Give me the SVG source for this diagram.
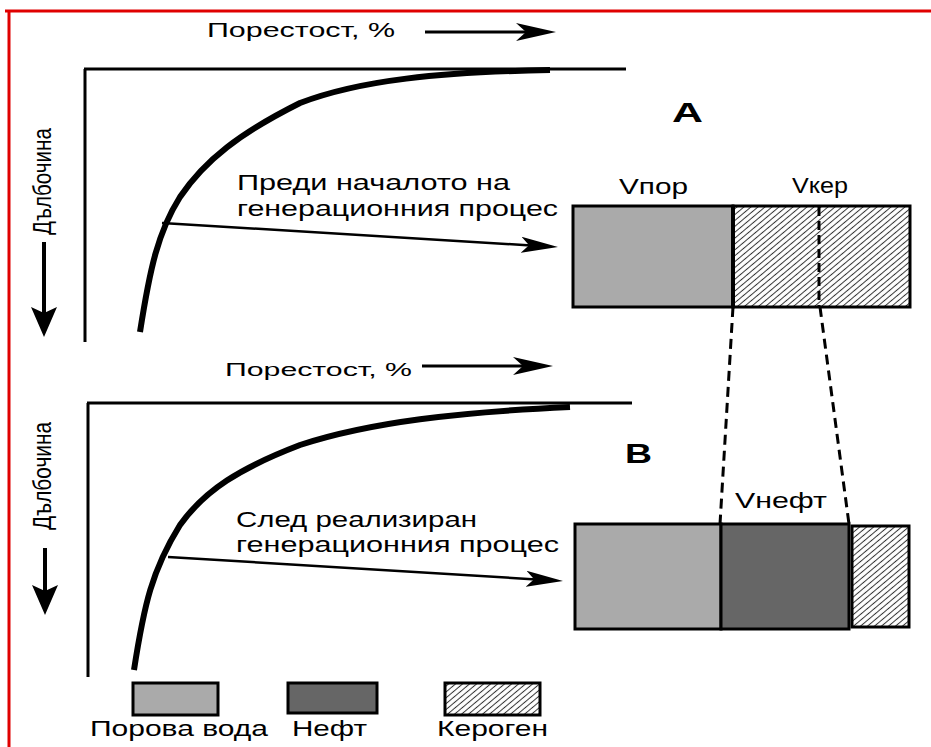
<svg xmlns="http://www.w3.org/2000/svg" width="931" height="747" viewBox="0 0 931 747">
<defs>
<style>
text{font-family:"Liberation Sans",Arial,sans-serif;fill:#000}
.t{font-size:22px}
.ax{stroke:#000;stroke-width:3;fill:none}
.crv{stroke:#000;stroke-width:6;fill:none;stroke-linejoin:round}
.ptr{stroke:#000;stroke-width:2.5;fill:none}
.box{stroke:#000;stroke-width:3}
.light{fill:#aaaaaa}
.dark{fill:#666666}
.ker{fill:url(#hatch)}
.dash{stroke:#000;stroke-width:3;stroke-dasharray:10 6;fill:none}
</style>
<pattern id="hatch" width="10" height="4.5" patternUnits="userSpaceOnUse" patternTransform="rotate(-40)">
<rect width="10" height="4.5" fill="#fff"/>
<line x1="0" y1="2.25" x2="10" y2="2.25" stroke="#333" stroke-width="1"/>
</pattern>
<marker id="headS" markerUnits="userSpaceOnUse" markerWidth="40" markerHeight="18" viewBox="0 -9 40 18" refX="10" refY="0" orient="auto">
<path d="M0,-8 L37,0 L0,8 L8,0 Z" fill="#000"/>
</marker>
<marker id="headL" markerUnits="userSpaceOnUse" markerWidth="42" markerHeight="20" viewBox="0 -10 42 20" refX="12" refY="0" orient="auto">
<path d="M0,-9 L40,0 L0,9 L10,0 Z" fill="#000"/>
</marker>
<marker id="headD" markerUnits="userSpaceOnUse" markerWidth="32" markerHeight="28" viewBox="0 -14 32 28" refX="8" refY="0" orient="auto">
<path d="M0,-13 L30,0 L0,13 L6,0 Z" fill="#000"/>
</marker>
</defs>
<rect width="931" height="747" fill="#fff"/>
<g id="border" fill="none" stroke="#e00000" stroke-width="3">
<path d="M5,11 H931 M9,11 V747"/>
</g>
<g id="chartA">
<text x="207" y="37" font-size="20" textLength="188" lengthAdjust="spacingAndGlyphs">Порестост, %</text>
<path class="ax" d="M84,69 H626 M85,69 V342"/>
<path class="crv" d="M140,332 C150,268 158,232 180,197 C205,160 240,133 300,103 C360,80 440,72 550,70"/>
<text transform="translate(51,235) scale(1.4,1) rotate(-90)" font-size="19" textLength="107" lengthAdjust="spacingAndGlyphs">Дълбочина</text>
<text x="672" y="122" font-size="28" font-weight="bold" textLength="31" lengthAdjust="spacingAndGlyphs">A</text>
<text class="t" x="237" y="190" textLength="273" lengthAdjust="spacingAndGlyphs">Преди началото на</text>
<text class="t" x="237" y="216" textLength="321" lengthAdjust="spacingAndGlyphs">генерационния процес</text>
</g>
<g id="chartB">
<text x="225" y="376" font-size="18" textLength="187" lengthAdjust="spacingAndGlyphs">Порестост, %</text>
<path class="ax" d="M87,403 H632 M88,403 V677"/>
<path class="crv" d="M134,670 C144,605 152,570 180,525 C205,490 240,468 300,445 C370,422 460,412 570,407"/>
<text transform="translate(51,530) scale(1.4,1) rotate(-90)" font-size="19" textLength="108" lengthAdjust="spacingAndGlyphs">Дълбочина</text>
<text x="625" y="463" font-size="27" font-weight="bold" textLength="27" lengthAdjust="spacingAndGlyphs">B</text>
<text class="t" x="236" y="527" textLength="241" lengthAdjust="spacingAndGlyphs">След реализиран</text>
<text class="t" x="236" y="552" textLength="323" lengthAdjust="spacingAndGlyphs">генерационния процес</text>
</g>
<g id="boxA">
<rect class="box light" x="573" y="206" width="160" height="101"/>
<rect class="box ker" x="733" y="206" width="177" height="101"/>
<line x1="733" y1="206" x2="733" y2="307" stroke="#000" stroke-width="4"/>
<line x1="819" y1="207" x2="819" y2="306" stroke="#000" stroke-width="3" stroke-dasharray="9 5"/>
<text class="t" x="619" y="194" textLength="69" lengthAdjust="spacingAndGlyphs">Vпор</text>
<text class="t" x="792" y="193" textLength="56" lengthAdjust="spacingAndGlyphs">Vкер</text>
</g>
<g id="boxB">
<rect class="box light" x="575" y="524" width="146" height="105"/>
<rect class="box dark" x="721" y="524" width="128" height="105"/>
<rect class="box ker" x="852" y="526" width="57" height="101"/>
<text class="t" x="735" y="508" textLength="92" lengthAdjust="spacingAndGlyphs">Vнефт</text>
</g>
<g id="legend">
<rect class="box light" x="133" y="683" width="85" height="32"/>
<rect class="box dark" x="288" y="683" width="89" height="30"/>
<rect class="box ker" x="445" y="683" width="95" height="32"/>
<text x="90" y="736" font-size="22" textLength="178" lengthAdjust="spacingAndGlyphs">Порова вода</text>
<text x="292" y="736" font-size="22" textLength="75" lengthAdjust="spacingAndGlyphs">Нефт</text>
<text x="437" y="736" font-size="22" textLength="111" lengthAdjust="spacingAndGlyphs">Кероген</text>
</g>
<g id="connectors">
<line class="ax" x1="425" y1="32" x2="528" y2="32" marker-end="url(#headL)"/>
<line class="ax" x1="422" y1="366" x2="525" y2="366" marker-end="url(#headL)"/>
<line x1="44" y1="242" x2="44" y2="315" stroke="#000" stroke-width="4" marker-end="url(#headD)"/>
<line x1="45" y1="548" x2="45" y2="593" stroke="#000" stroke-width="4" marker-end="url(#headD)"/>
<line class="ptr" x1="162" y1="223" x2="531.05" y2="245.42" marker-end="url(#headS)"/>
<line class="ptr" x1="168" y1="557" x2="536.05" y2="579.42" marker-end="url(#headS)"/>
<path class="dash" d="M733,307 L720,524"/>
<path class="dash" d="M820,307 L849,524"/>
</g>
</svg>
